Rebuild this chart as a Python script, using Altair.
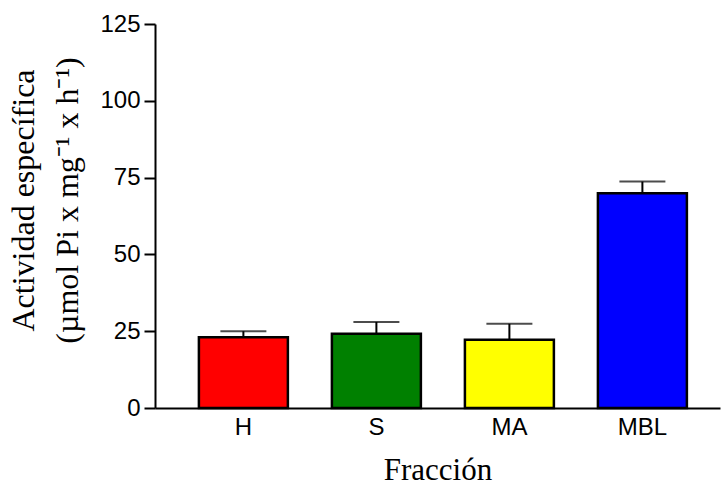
import altair as alt
import pandas as pd

fractions = ["H", "S", "MA", "MBL"]
means = [23.0, 24.2, 22.2, 69.9]
upper = [25.0, 28.0, 27.4, 73.7]
colors = ["#FF0000", "#008000", "#FFFF00", "#0000FF"]
y_ticks = [0, 25, 50, 75, 100, 125]

df = pd.DataFrame({"frac": fractions, "mean": means, "upper": upper, "color": colors})

xscale = alt.Scale(domain=fractions, paddingInner=0.331, paddingOuter=0.2895, align=0.57)
yscale = alt.Scale(domain=[0, 125], nice=False, zero=True)

x_axis = alt.Axis(
    title="Fracción", ticks=False, labels=False,
    titleFont="Liberation Serif", titleFontSize=31, titleFontWeight="normal",
    titleColor="black", titleY=71, titleBaseline="alphabetic",
    domainColor="black", domainWidth=2,
)
y_axis = alt.Axis(
    title=["Actividad específica", "(µmol Pi x mg⁻¹ x h⁻¹)"], values=y_ticks,
    labelFont="Liberation Sans", labelFontSize=24, labelColor="black", labelPadding=4,
    tickSize=11, tickColor="black", tickWidth=2, domainColor="black", domainWidth=2,
    grid=False, titleFont="Liberation Serif", titleFontSize=32, titleFontWeight="normal",
    titleColor="black", titleX=-122, titleY=176, titleAngle=-90, titleAlign="center",
    titleBaseline="alphabetic", titleLineHeight=44,
)

base = alt.Chart(df)

bars = base.mark_bar(stroke="black", strokeWidth=2.5).encode(
    x=alt.X("frac:N", scale=xscale, axis=x_axis, sort=fractions),
    y=alt.Y("mean:Q", scale=yscale, axis=y_axis),
    fill=alt.Fill("color:N", scale=None),
)

err = base.mark_rule(color="black", strokeWidth=2).encode(
    x=alt.X("frac:N", scale=xscale, sort=fractions),
    y=alt.Y("mean:Q", scale=yscale),
    y2="upper:Q",
)

caps = base.mark_tick(color="black", thickness=2, size=46).encode(
    x=alt.X("frac:N", scale=xscale, sort=fractions),
    y=alt.Y("upper:Q", scale=yscale),
)

labels = base.mark_text(
    font="Liberation Sans", fontSize=24, color="black", baseline="alphabetic", align="center"
).encode(
    x=alt.X("frac:N", scale=xscale, sort=fractions),
    y=alt.value(411),
    text="frac:N",
)

chart = (
    alt.layer(err, bars, caps, labels)
    .properties(
        width=565, height=384,
        autosize=alt.AutoSizeParams(type="none"),
        padding={"left": 155, "top": 24, "right": 6, "bottom": 77},
        background="white",
    )
    .configure_view(stroke=None)
)

chart.save("out.html", embed_options={"renderer": "svg", "actions": False})
